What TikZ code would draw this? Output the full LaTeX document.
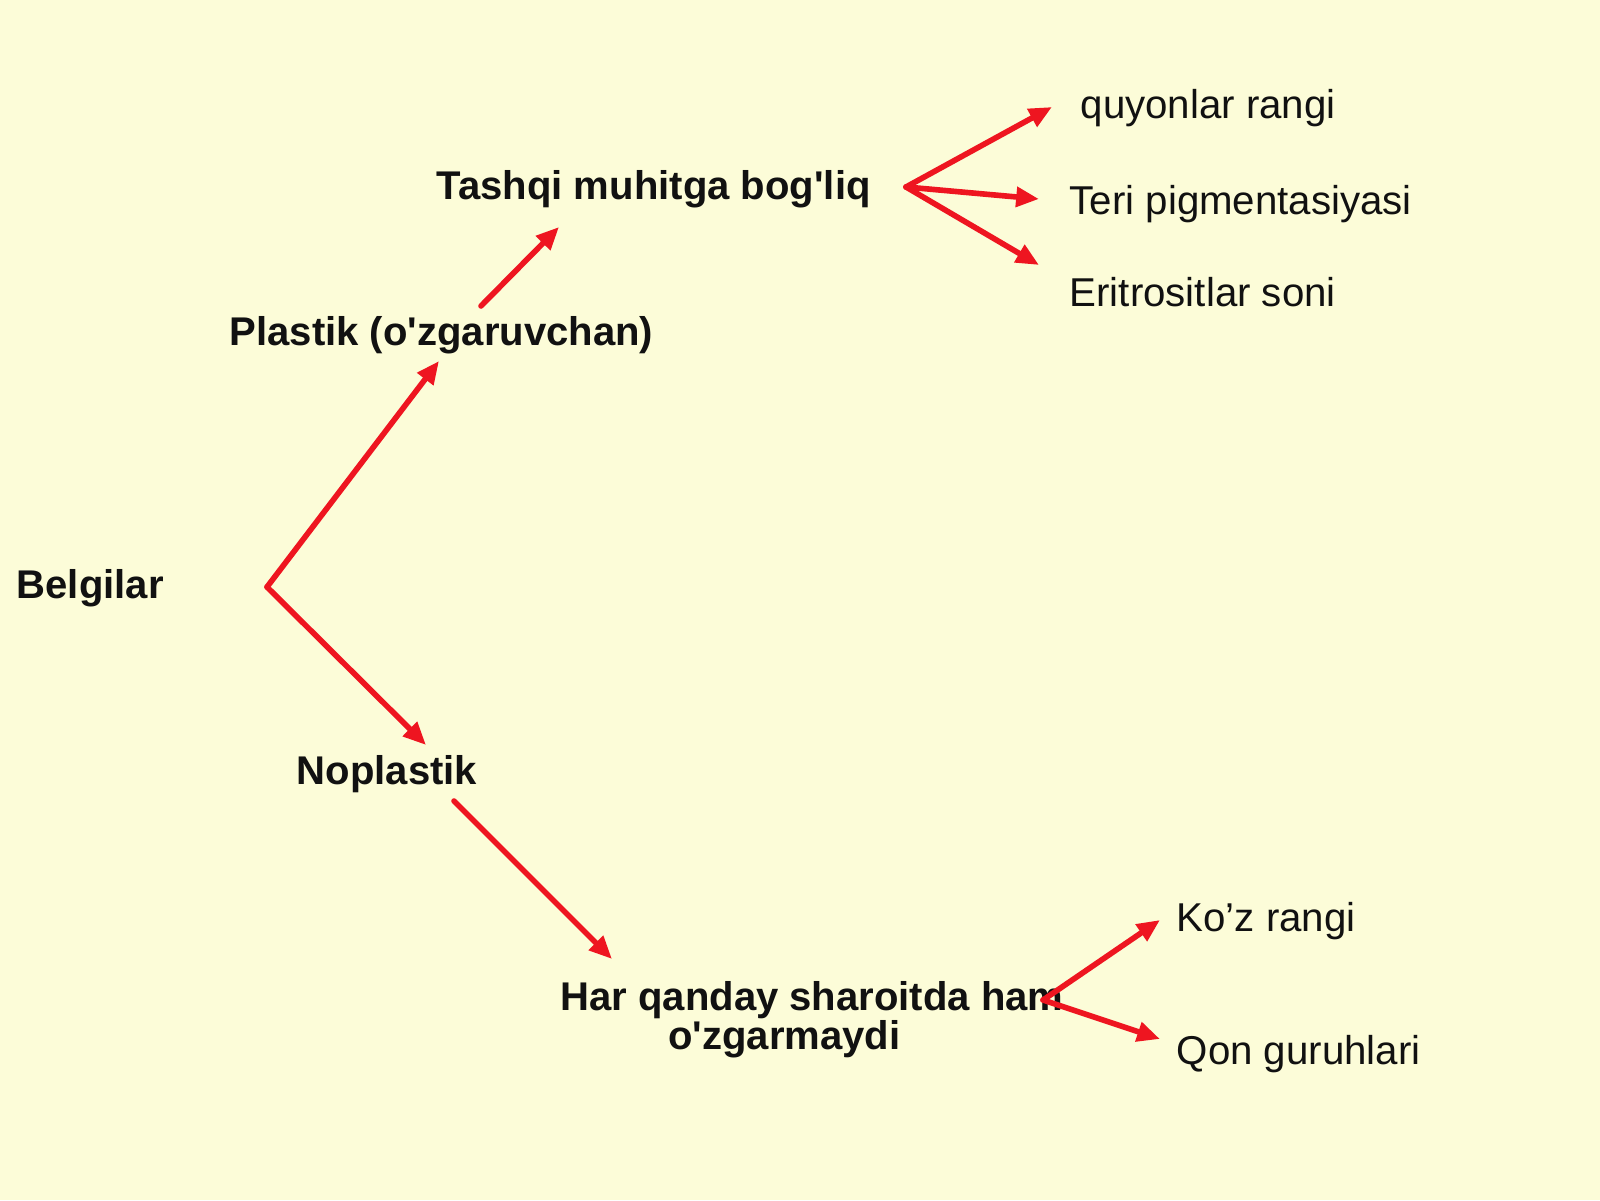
\documentclass[tikz,border=0pt]{standalone}
\usepackage{fontspec}
\setmainfont{Liberation Sans}
\usepackage{xcolor}
\usepackage{tikz}
\usetikzlibrary{arrows.meta}
\definecolor{bg}{HTML}{FCFCD8}
\definecolor{text}{HTML}{111111}
\definecolor{arrred}{HTML}{EE1520}
\newcommand{\ap}{\textquotesingle}
\tikzset{
  arr/.style={draw=arrred, line width=1.6pt, line cap=round, line join=round,
    -{Triangle[length=6.5pt,width=5.5pt]}},
  labb/.style={text=text, inner sep=0pt, anchor=west, font=\bfseries\fontsize{11.4}{11.1}\selectfont},
  lab/.style={text=text, inner sep=0pt, anchor=west, font=\fontsize{11.45}{13}\selectfont},
}

\begin{document}
\begin{tikzpicture}
  \fill[bg] (0,0) rectangle (16,12);
  \useasboundingbox (0,0) rectangle (16,12);
  % labels
  \node[labb] (belg) at (0.16,6.12) {Belgilar};
  \node[labb] (plast) at (2.29,8.65) {Plastik (o\ap zgaruvchan)};
  \node[labb] (tash) at (4.36,10.11) {Tashqi muhitga bog\ap liq};
  \node[labb] (nopl) at (2.96,4.26) {Noplastik};
  \node[labb, anchor=center, align=center] (har) at (8.12,1.80)
    {Har qanday sharoitda ham\\o\ap zgarmaydi\hspace*{5.5mm}};
  \node[lab] (quy) at (10.80,10.92) {quyonlar rangi};
  \node[lab] (teri) at (10.69,9.96) {Teri pigmentasiyasi};
  \node[lab] (erit) at (10.69,9.08) {Eritrositlar soni};
  \node[lab] (koz) at (11.76,2.79) {Ko’z rangi};
  \node[lab] (qon) at (11.76,1.46) {Qon guruhlari};
  % arrow ends
  \coordinate (fB) at (2.67,6.13);
  \coordinate (tP) at (4.39,8.39);
  \coordinate (tN) at (4.26,4.55);
  \coordinate (sP) at (4.81,8.94);
  \coordinate (tT) at (5.59,9.73);
  \coordinate (sN) at (4.54,3.99);
  \coordinate (tH) at (6.12,2.41);
  \coordinate (fT) at (9.06,10.13);
  \coordinate (tQ) at (10.52,10.93);
  \coordinate (tTe) at (10.39,10.01);
  \coordinate (tE) at (10.39,9.35);
  \coordinate (fH) at (10.43,2.00);
  \coordinate (tK) at (11.60,2.80);
  \coordinate (tQo) at (11.60,1.61);
  % arrows
  \draw[arr] (fB)--(tP);
  \draw[arr] (fB)--(tN);
  \draw[arr] (sP)--(tT);
  \draw[arr] (sN)--(tH);
  \draw[arr] (fT)--(tQ);
  \draw[arr] (fT)--(tTe);
  \draw[arr] (fT)--(tE);
  \draw[arr] (fH)--(tK);
  \draw[arr] (fH)--(tQo);
\end{tikzpicture}
\end{document}
